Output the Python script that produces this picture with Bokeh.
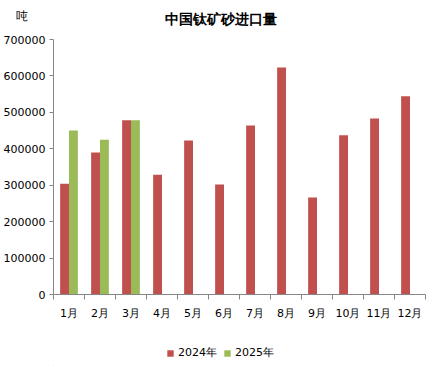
from bokeh.plotting import figure
from bokeh.layouts import column
from bokeh.models import FixedTicker, Legend, LegendItem, ColumnDataSource
from bokeh.core.properties import value
from bokeh.transform import dodge
from bokeh.embed import file_html
from bokeh.resources import INLINE

months = ["1月", "2月", "3月", "4月", "5月", "6月", "7月", "8月", "9月", "10月", "11月", "12月"]
v2024 = [304000, 390000, 478000, 329000, 423000, 302000, 464000, 623000, 266000, 437000, 483000, 544000]
v2025 = [450000, 425000, 478000]
yticks = [0, 100000, 200000, 300000, 400000, 500000, 600000, 700000]
series = ["2024年", "2025年"]
colors = ["#C0504D", "#9BBB59"]
title = "中国钛矿砂进口量"
unit = "吨"

FONT = "DejaVu Sans"
AX = "#868686"
W = 430
FW = 378  # frame width in px (W - 47 - 5)


def blank(h):
    f = figure(width=W, height=h, output_backend="svg", toolbar_location=None,
               x_range=(0, FW), y_range=(0, h),
               min_border_left=47, min_border_right=5, min_border_top=0, min_border_bottom=0)
    f.outline_line_color = None
    f.xgrid.visible = False
    f.ygrid.visible = False
    f.xaxis.visible = False
    return f


# header with title and unit
head = blank(31)
head.text(x=[170], y=[13], text=[title], text_font=value(FONT), text_font_size="14px",
          text_font_style="bold", text_align="center", text_baseline="middle", text_color="#000000")
hy = head.yaxis[0]
hy.ticker = FixedTicker(ticks=[16])
hy.major_label_overrides = {16: unit}
hy.axis_line_color = None
hy.major_tick_line_color = None
hy.minor_tick_line_color = None
hy.major_tick_out = 0
hy.major_tick_in = 0
hy.major_label_standoff = 26
hy.major_label_text_font = FONT
hy.major_label_text_font_size = "12px"
hy.major_label_text_color = "#000000"

# main chart
pos = [i + 0.5 for i in range(len(months))]
src24 = ColumnDataSource(dict(x=pos, y=v2024))
src25 = ColumnDataSource(dict(x=pos[:len(v2025)], y=v2025))

p = figure(width=W, height=293, output_backend="svg", toolbar_location=None,
           x_range=(0, 12), y_range=(0, 700000),
           min_border_left=47, min_border_right=5, min_border_top=8, min_border_bottom=30)
p.outline_line_color = None
p.xgrid.visible = False
p.ygrid.visible = False

p.vbar(x=dodge("x", -0.143, range=p.x_range), top="y", width=0.286, source=src24,
       fill_color=colors[0], line_color=None)
p.vbar(x=dodge("x", 0.143, range=p.x_range), top="y", width=0.286, source=src25,
       fill_color=colors[1], line_color=None)

xa = p.xaxis[0]
xa.ticker = FixedTicker(ticks=pos, minor_ticks=list(range(13)))
xa.major_label_overrides = {p_: m for p_, m in zip(pos, months)}
xa.major_tick_line_color = None
xa.minor_tick_in = 0
xa.minor_tick_out = 5
xa.minor_tick_line_color = AX
xa.axis_line_color = AX
xa.major_label_text_font = FONT
xa.major_label_text_font_size = "11px"
xa.major_label_text_color = "#000000"
xa.major_label_standoff = 6

ya = p.yaxis[0]
ya.ticker = FixedTicker(ticks=yticks)
ya.formatter.use_scientific = False
ya.minor_tick_line_color = None
ya.major_tick_in = 0
ya.major_tick_out = 4
ya.major_tick_line_color = AX
ya.axis_line_color = AX
ya.major_label_text_font = FONT
ya.major_label_text_font_size = "11px"
ya.major_label_text_color = "#000000"
ya.major_label_standoff = 4

# footer with legend
foot = blank(42)
foot.yaxis.visible = False
g1 = foot.vbar(x=[-100], top=[1], width=1, fill_color=colors[0], line_color=None)
g2 = foot.vbar(x=[-100], top=[1], width=1, fill_color=colors[1], line_color=None)
legend = Legend(items=[LegendItem(label=series[0], renderers=[g1]),
                       LegendItem(label=series[1], renderers=[g2])],
                orientation="horizontal", location=(113, 6),
                glyph_width=8, glyph_height=8, label_height=12, label_width=10,
                label_standoff=4, spacing=6,
                label_text_font=FONT, label_text_font_size="11px", label_text_color="#000000",
                border_line_color=None, background_fill_alpha=0, padding=0, margin=0)
foot.add_layout(legend)

layout = column(head, p, foot, spacing=0)
open("out.html", "w").write(file_html(layout, INLINE))
